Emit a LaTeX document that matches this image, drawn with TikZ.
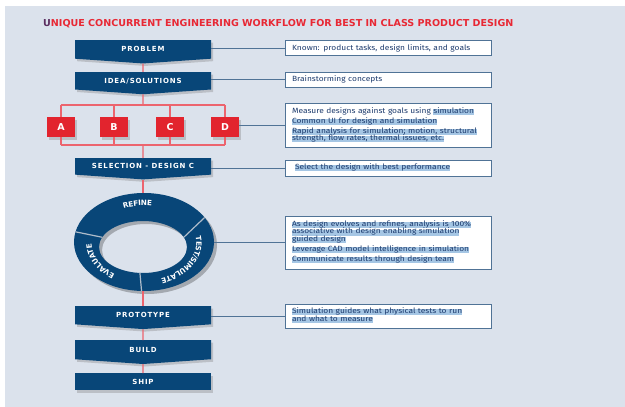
\documentclass[tikz,border=0pt]{standalone}
\usepackage{fontspec}
\setmainfont{Fira Sans}[FakeStretch=1.12]
\newfontfamily\headfont[LetterSpace=12]{DejaVu Sans}
\newfontfamily\titlefont{DejaVu Sans}
\newfontfamily\ringfont{DejaVu Sans}
\usetikzlibrary{calc, shapes.symbols, shapes.geometric, shadows, decorations.text}

\definecolor{pagebg}{RGB}{219,226,236}
\definecolor{stepblue}{RGB}{8,70,120}
\definecolor{flowred}{RGB}{236,100,110}
\definecolor{optred}{RGB}{226,36,46}
\definecolor{titlered}{RGB}{232,40,52}
\definecolor{titleU}{RGB}{90,45,95}
\definecolor{linkblue}{RGB}{80,115,150}
\definecolor{notetext}{RGB}{30,60,110}
\definecolor{hlblue}{RGB}{165,198,228}
\definecolor{sepgrey}{RGB}{175,188,202}

\newcommand\hl[1]{{\setlength{\fboxsep}{0pt}\colorbox{hlblue}{\rule[-1.6pt]{0pt}{5.9pt}\smash{#1}}}}

\tikzset{
  boxshadow/.style={drop shadow={opacity=0.35, shadow xshift=2pt, shadow yshift=-2.5pt}},
  stage/.style={signal, signal to=south, signal from=nowhere, signal pointer angle=172,
    fill=stepblue, minimum width=136pt, minimum height=20pt, inner sep=0pt,
    text=white, font=\headfont\bfseries\fontsize{7}{8}\selectfont, boxshadow},
  laststage/.style={rectangle, fill=stepblue, minimum width=136pt, minimum height=17pt,
    inner sep=0pt, text=white, font=\headfont\bfseries\fontsize{7}{8}\selectfont, boxshadow},
  option/.style={rectangle, fill=optred, minimum width=28pt, minimum height=20pt,
    inner sep=0pt, text=white, font=\titlefont\bfseries\fontsize{9.5}{10}\selectfont, boxshadow},
  note/.style={rectangle, draw=linkblue, line width=0.9pt, fill=white, minimum width=206pt,
    text width=192pt, inner xsep=7pt, inner ysep=0pt, align=left, text=notetext,
    font=\fontsize{7.5}{7.5}\selectfont},
  flow/.style={draw=flowred, line width=1.1pt},
  link/.style={draw=linkblue, line width=0.9pt},
  ringgap/.style={draw=sepgrey, line width=1.2pt},
  ringlabel/.style={decorate, decoration={text along path, text align=center, raise=-2.6pt,
    text color=white, text={|\ringfont\bfseries\fontsize{7.3}{8}\selectfont|#1}}}
}

\begin{document}
\begin{tikzpicture}[x=1pt, y=-1pt]
  \useasboundingbox (0,0) rectangle (625,407);
  \fill[white] (0,0) rectangle (625,407);
  \fill[pagebg] (5,6) rectangle (625,407);

  % title
  \node[anchor=west, inner sep=0pt, text=titlered,
        font=\titlefont\bfseries\fontsize{9.55}{10}\selectfont] (title) at (43,24)
    {\textcolor{titleU}{U}NIQUE CONCURRENT ENGINEERING WORKFLOW FOR BEST IN CLASS PRODUCT DESIGN};

  % main steps
  \node[stage, anchor=north] (prob) at (143,40) {PROBLEM};
  \node[stage, anchor=north] (idea) at (143,72) {IDEA/SOLUTIONS};
  \node[option] (optA) at (61,127) {A};
  \node[option] (optB) at (114,127) {B};
  \node[option] (optC) at (170,127) {C};
  \node[option] (optD) at (225,127) {D};
  \node[stage, anchor=north] (sel) at (143,158) {SELECTION - DESIGN C};
  \node[stage, anchor=north] (proto) at (143,306) {PROTOTYPE};
  \node[stage, anchor=north] (build) at (143,340) {BUILD};
  \node[laststage, anchor=north] (ship) at (143,373) {SHIP};

  % cycle ring
  \fill[black, opacity=0.25, even odd rule] (147,245) ellipse [x radius=70, y radius=49]
    (146,250) ellipse [x radius=44, y radius=26];
  \fill[stepblue, even odd rule] (144,242) ellipse [x radius=70, y radius=49]
    (143,247) ellipse [x radius=44, y radius=26];
  \node[ellipse, minimum width=140pt, minimum height=98pt, inner sep=0pt] (ring) at (144,242) {};
  \foreach \a/\b in {-30/-22, -168/-158, 92/94}
    \draw[ringgap] (144,242) ++(\a:70 and 49) -- ($(143,247)+(\b:44 and 26)$);
  \path[ringlabel=REFINE] (144,243) ++(-168:55 and 40)
    arc[start angle=-168, end angle=-30, x radius=55, y radius=40];
  \path[ringlabel=TEST/SIMULATE] (144,243) ++(-36:55 and 40)
    arc[start angle=-36, end angle=92, x radius=55, y radius=40];
  \path[ringlabel=EVALUATE] (144,243) ++(108:55 and 40)
    arc[start angle=108, end angle=198, x radius=55, y radius=40];

  % notes
  \node[note, minimum height=15pt] (n1) at (388,48) {Known: product tasks, design limits, and goals};
  \node[note, minimum height=15pt] (n2) at (388,79.5) {Brainstorming concepts};
  \node[note, minimum height=44pt] (n3) at (388,125)
    {Measure designs against goals using \hl{simulation}\\[2.4pt]
     \hl{Common UI for design and simulation}\\[2.4pt]
     \hl{Rapid analysis for simulation; motion, structural}\\
     \hl{strength, flow rates, thermal issues, etc.}};
  \node[note, minimum height=15.5pt] (n4) at (388,168.2)
    {\hspace*{3pt}\hl{Select the design with best performance}};
  \node[note, minimum height=53pt] (n5) at (388,242.5)
    {\hl{As design evolves and refines, analysis is 100\%}\\
     \hl{associative with design enabling simulation}\\
     \hl{guided design}\\[2.4pt]
     \hl{Leverage CAD model intelligence in simulation}\\[2.4pt]
     \hl{Communicate results through design team}};
  \node[note, minimum height=24pt] (n6) at (388,316)
    {\hl{Simulation guides what physical tests to run}\\
     \hl{and what to measure}};

  % red flow
  \coordinate (split) at (143,105);
  \coordinate (merge) at (143,145);
  \draw[flow] (prob) -- (idea);
  \draw[flow] (idea) -- (split);
  \draw[flow] (optA.north |- split) -- (optD.north |- split);
  \draw[flow] (optA.south |- merge) -- (optD.south |- merge);
  \foreach \o in {A,B,C,D} {
    \draw[flow] (opt\o.north |- split) -- (opt\o.north);
    \draw[flow] (opt\o.south) -- (opt\o.south |- merge);
  }
  \draw[flow] (merge) -- (sel);
  \draw[flow] (sel.south) -- (sel.south |- ring.north);
  \draw[flow] (proto.north |- ring.south) -- (proto.north);
  \draw[flow] (proto) -- (build);
  \draw[flow] (build) -- (ship);

  % links to notes
  \draw[link] (prob.east |- n1.west) -- (n1.west);
  \draw[link] (idea.east |- n2.west) -- (n2.west);
  \draw[link] (optD.east |- n3.west) -- (n3.west);
  \draw[link] (sel.east |- n4.west) -- (n4.west);
  \draw[link] (ring.east) -- (ring.east -| n5.west);
  \draw[link] (proto.east |- n6.west) -- (n6.west);
\end{tikzpicture}
\end{document}
